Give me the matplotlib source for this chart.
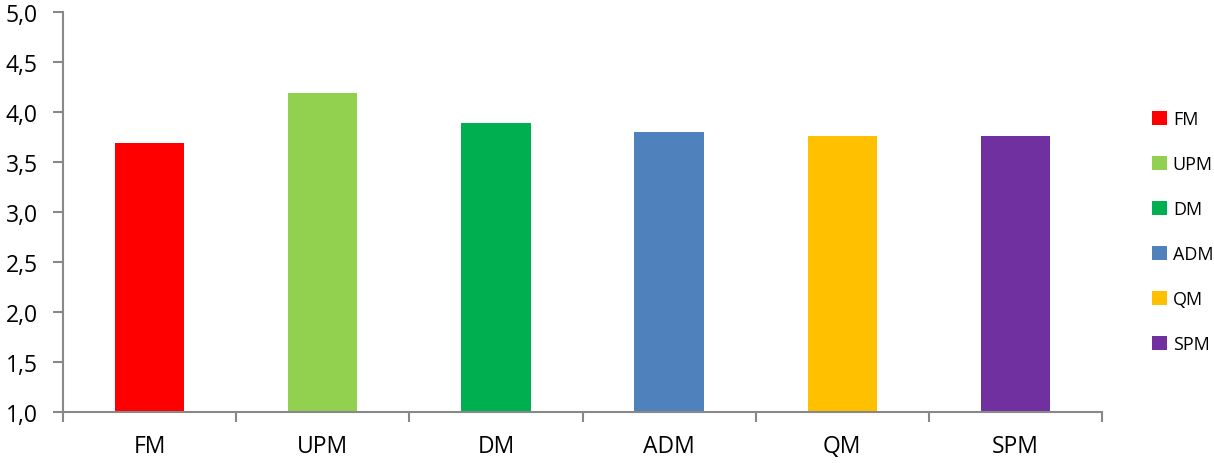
import matplotlib
matplotlib.use("Agg")
import matplotlib.pyplot as plt
from matplotlib.patches import Patch
from matplotlib.ticker import FixedLocator, FuncFormatter
import numpy as np

categories = ["FM", "UPM", "DM", "ADM", "QM", "SPM"]
values = [3.69, 4.19, 3.89, 3.80, 3.76, 3.76]
colors = ["#FF0000", "#92D050", "#00B050", "#4F81BD", "#FFC000", "#7030A0"]

plt.rcParams["font.family"] = ["Open Sans", "DejaVu Sans"]
axis_grey = "#888888"

fig = plt.figure(figsize=(12.14, 4.64), dpi=100)
ax = fig.add_axes([63 / 1214, 1 - 412.7 / 464, (1102 - 63) / 1214, (412.7 - 13.3) / 464])

x = np.arange(len(categories))
ax.bar(x, [v - 1.0 for v in values], bottom=1.0, width=0.4, color=colors)

ax.set_xlim(-0.5, len(categories) - 0.5)
ax.set_ylim(1.0, 5.0)
ax.set_yticks(np.arange(1.0, 5.01, 0.5))
ax.yaxis.set_major_formatter(FuncFormatter(lambda v, _: f"{v:.1f}".replace(".", ",")))

ax.set_xticks(x)
ax.set_xticklabels(categories)
ax.xaxis.set_minor_locator(FixedLocator(np.arange(-0.5, len(categories), 1.0)))
ax.tick_params(axis="x", which="major", length=0, pad=16, labelsize=16.5)
ax.tick_params(axis="x", which="minor", length=7, width=1.5, color=axis_grey)
ax.tick_params(axis="y", length=7, width=1.5, color=axis_grey, labelsize=16.5, pad=11)

for side in ["top", "right"]:
    ax.spines[side].set_visible(False)
for side in ["left", "bottom"]:
    ax.spines[side].set_color(axis_grey)
    ax.spines[side].set_linewidth(1.5)

handles = [Patch(facecolor=c, edgecolor="none") for c in colors]
fig.legend(handles, categories, loc="upper left", bbox_to_anchor=(1143 / 1214, 1 - 102 / 464),
           frameon=False, fontsize=13, handlelength=0.85, handleheight=0.85,
           handletextpad=0.3, labelspacing=1.5, borderpad=0)

fig.savefig("out.png", dpi=100)
